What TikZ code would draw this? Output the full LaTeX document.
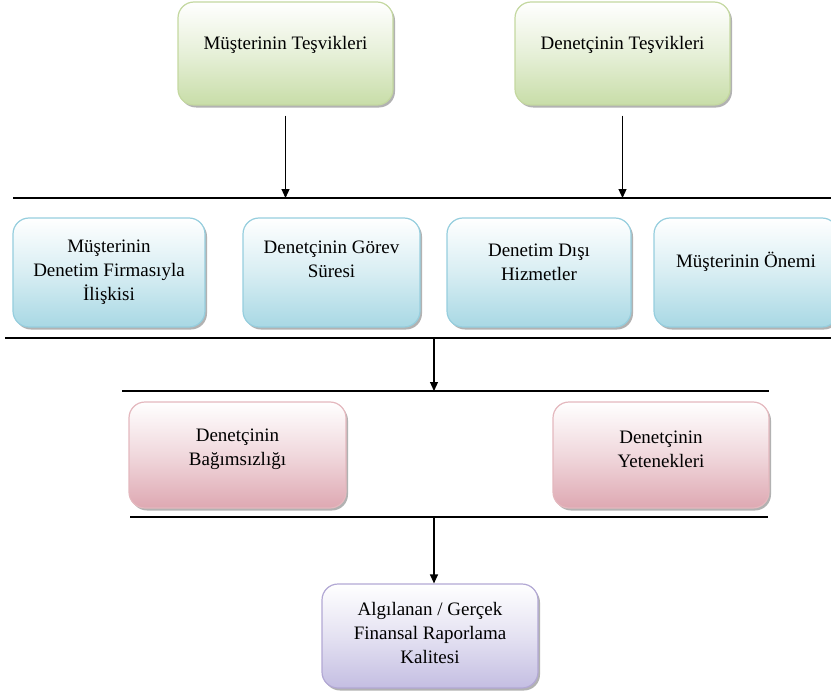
\documentclass[tikz,border=0pt]{standalone}
\usepackage{fontspec}
\setmainfont{Liberation Serif}
\usetikzlibrary{arrows.meta,shadows}

\definecolor{grnB}{RGB}{200,221,168}
\definecolor{grnE}{RGB}{196,216,160}
\definecolor{bluB}{RGB}{168,216,228}
\definecolor{bluE}{RGB}{150,206,222}
\definecolor{redB}{RGB}{222,168,178}
\definecolor{redE}{RGB}{228,184,190}
\definecolor{purB}{RGB}{196,190,226}
\definecolor{purE}{RGB}{178,168,212}

\tikzset{
  box/.style={draw=#1E, line width=1.2bp, rounded corners=16bp,
    top color=white, bottom color=#1B, middle color=#1B!45!white,
    drop shadow={shadow xshift=2bp, shadow yshift=-2.5bp, opacity=0.3, fill=black},
    inner sep=0pt},
  txt/.style={align=center, font=\fontsize{19bp}{24bp}\selectfont, inner sep=0pt},
  rule/.style={line width=1.4bp, black},
  arr/.style={line width=1.2bp, -{Triangle[length=9bp,width=8bp]}},
}

\begin{document}
\begin{tikzpicture}[x=1bp, y=-1bp]
\useasboundingbox (0,0) rectangle (831,694);
\clip (0,0) rectangle (831,694);

% incentive boxes
\node[box=grn, minimum width=215bp, minimum height=103bp] (mt) at (285.5,53.5) {};
\node[txt] (mtT) at (285.5,45) {Müşterinin Teşvikleri};
\node[box=grn, minimum width=215bp, minimum height=103bp] (dt) at (622.5,53.5) {};
\node[txt] (dtT) at (622.5,45) {Denetçinin Teşvikleri};

% rules
\coordinate (L1a) at (13,198);   \coordinate (L1b) at (831,198);
\coordinate (L2a) at (5,338);    \coordinate (L2b) at (831,338);
\coordinate (L3a) at (122,391);  \coordinate (L3b) at (769,391);
\coordinate (L4a) at (130,517);  \coordinate (L4b) at (768,517);
\draw[rule] (L1a) -- (L1b);
\draw[rule] (L2a) -- (L2b);
\draw[rule] (L3a) -- (L3b);
\draw[rule] (L4a) -- (L4b);

% factor boxes
\node[box=blu, minimum width=192bp, minimum height=109bp] (b1) at (109,272.5) {};
\node[txt] (b1T) at (109,272) {Müşterinin\\Denetim Firmasıyla\\İlişkisi};
\node[box=blu, minimum width=177bp, minimum height=109bp] (b2) at (331.5,272.5) {};
\node[txt] (b2T) at (331.5,259.5) {Denetçinin Görev\\Süresi};
\node[box=blu, minimum width=184bp, minimum height=109bp] (b3) at (539,272.5) {};
\node[txt] (b3T) at (539,262.5) {Denetim Dışı\\Hizmetler};
\node[box=blu, minimum width=184bp, minimum height=109bp] (b4) at (746,272.5) {};
\node[txt] (b4T) at (746,262) {Müşterinin Önemi};

% auditor boxes
\node[box=red, minimum width=217bp, minimum height=106bp] (r1) at (237.5,455) {};
\node[txt] (r1T) at (237.5,449.5) {Denetçinin\\Bağımsızlığı};
\node[box=red, minimum width=216bp, minimum height=106bp] (r2) at (661,455) {};
\node[txt] (r2T) at (661,449.5) {Denetçinin\\Yetenekleri};

% outcome box
\node[box=pur, minimum width=216bp, minimum height=104bp] (pq) at (430,636) {};
\node[txt] (pqT) at (430,633) {Algılanan / Gerçek\\Finansal Raporlama\\Kalitesi};

% connectors
\draw[arr, shorten <=10bp] (mt.south) -- (mt.south |- L1a);
\draw[arr, shorten <=10bp] (dt.south) -- (dt.south |- L1a);
\coordinate (m2) at (434,338);
\draw[arr] (m2) -- (m2 |- L3a);
\coordinate (m4) at (434,517);
\draw[arr] (m4) -- (m4 |- pq.north);
\end{tikzpicture}
\end{document}
